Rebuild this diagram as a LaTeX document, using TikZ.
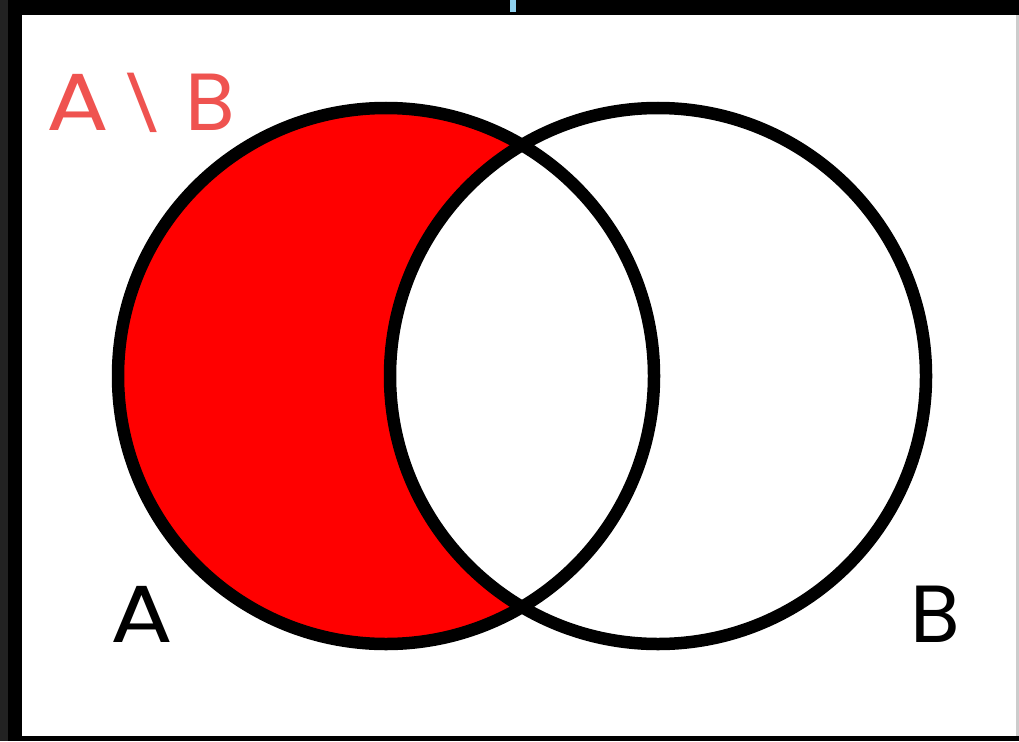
\documentclass[tikz,border=0pt]{standalone}
\usepackage{fontspec}
\usepackage{graphicx}
\setmainfont{Poppins}
\definecolor{labelred}{HTML}{EF5350}
\definecolor{darkstrip}{HTML}{222222}
\definecolor{tickblue}{HTML}{8ED0EE}
\newcommand{\wideA}{\scalebox{1.15}[1]{A}}
\begin{document}
\begin{tikzpicture}[x=1pt,y=-1pt,
  setline/.style={draw=black,line width=12.5pt},
  lbl/.style={font=\fontsize{81}{81}\selectfont,inner sep=0pt,anchor=base}]
\useasboundingbox (0,0) rectangle (1019,741);
% frame
\fill[black] (0,0) rectangle (1019,741);
\fill[darkstrip] (0,0) rectangle (8,741);
\fill[white] (22,15) rectangle (1016,736);
\fill[gray!40] (1016,15) rectangle (1019,736);
\fill[tickblue] (510,0) rectangle (516,12);
% sets
\coordinate (ca) at (386,376);
\coordinate (cb) at (658,376);
\fill[red] (ca) circle[radius=268];
\fill[white] (cb) circle[radius=268];
\draw[setline] (ca) circle[radius=268];
\draw[setline] (cb) circle[radius=268];
% labels
\node[lbl,text=labelred,anchor=base west] (diff) at (46,131)
  {\wideA\hspace{9pt}\raisebox{7pt}{\scalebox{0.92}[0.66]{\textbackslash}}\hspace{18pt}B};
\node[lbl] (la) at (142,642) {\wideA};
\node[lbl] (lb) at (935,642) {B};
\end{tikzpicture}
\end{document}
